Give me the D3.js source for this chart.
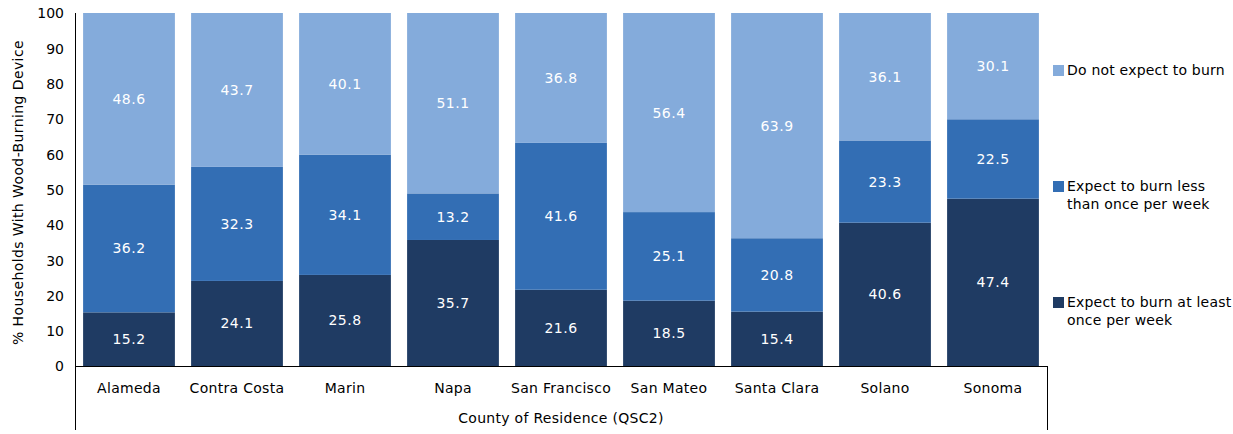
<!DOCTYPE html>
<html>
<head>
  <meta charset="utf-8">
  <title>Wood-Burning Device Use by County</title>
<style>
body { margin: 0; background: #fff; }
text { font-family: "DejaVu Sans", sans-serif; fill: #000; }
.tick text { font-size: 14px; }
.value-label { font-size: 14px; fill: #fff; text-anchor: middle; dominant-baseline: central; letter-spacing: 0.5px; }
.legend text { font-size: 14px; letter-spacing: 0.2px; }
.axis-title { font-size: 14px; letter-spacing: 0.3px; }
.y-title { font-size: 14px; letter-spacing: 0.4px; }
line.frame { stroke: #000; stroke-width: 1; }
</style>
</head>
<body>
<svg id="chart" width="1233" height="434"></svg>
<script src="https://d3js.org/d3.v7.min.js"></script>
<script>

var counties = ["Alameda", "Contra Costa", "Marin", "Napa", "San Francisco", "San Mateo", "Santa Clara", "Solano", "Sonoma"];
var atLeastWeekly = [15.2, 24.1, 25.8, 35.7, 21.6, 18.5, 15.4, 40.6, 47.4];
var lessThanWeekly = [36.2, 32.3, 34.1, 13.2, 41.6, 25.1, 20.8, 23.3, 22.5];
var doNotBurn = [48.6, 43.7, 40.1, 51.1, 36.8, 56.4, 63.9, 36.1, 30.1];
var yTicks = [0, 10, 20, 30, 40, 50, 60, 70, 80, 90, 100];

var series = [
  { key: "atLeast", label: ["Expect to burn at least", "once per week"], values: atLeastWeekly, color: "#1f3b63" },
  { key: "less", label: ["Expect to burn less", "than once per week"], values: lessThanWeekly, color: "#336eb4" },
  { key: "none", label: ["Do not expect to burn"], values: doNotBurn, color: "#84abdb" }
];

var svg = d3.select("#chart");
var plotLeft = 75, plotRight = 1047, plotTop = 13, plotBottom = 366;

var rows = counties.map(function (c, i) {
  var r = { county: c };
  series.forEach(function (s) { r[s.key] = s.values[i]; });
  return r;
});

var stacked = d3.stack().keys(series.map(function (s) { return s.key; }))(rows);

var x = d3.scaleBand().domain(counties).range([plotLeft, plotRight]).paddingInner(0.15).paddingOuter(0.075);
// some rows add up to 100.1 from rounding; keep bars inside the axis
var y = d3.scaleLinear().domain([0, 100]).range([plotBottom, plotTop]).clamp(true);

// bars
var layer = svg.append("g").selectAll("g.layer")
  .data(stacked)
  .join("g")
  .attr("class", "layer")
  .attr("fill", function (d, i) { return series[i].color; });

layer.selectAll("rect")
  .data(function (d) { return d; })
  .join("rect")
  .attr("x", function (d) { return x(d.data.county); })
  .attr("width", x.bandwidth())
  .attr("y", function (d) { return y(d[1]); })
  .attr("height", function (d) { return y(d[0]) - y(d[1]); });

layer.selectAll("text")
  .data(function (d) { return d; })
  .join("text")
  .attr("class", "value-label")
  .attr("x", function (d) { return x(d.data.county) + x.bandwidth() / 2; })
  .attr("y", function (d) { return (y(d[0]) + y(d[1])) / 2; })
  .text(function (d) { return (d[1] - d[0]).toFixed(1); });

// y axis
var yAxis = svg.append("g")
  .attr("transform", "translate(" + plotLeft + ",0)")
  .call(d3.axisLeft(y).tickValues(yTicks).tickSize(0).tickPadding(11));
yAxis.select(".domain").remove();
yAxis.selectAll(".tick text").attr("dy", "0.35em");

// x axis labels
svg.append("g").selectAll("text")
  .data(counties)
  .join("text")
  .attr("class", "axis-title")
  .attr("x", function (d) { return x(d) + x.bandwidth() / 2; })
  .attr("y", 393)
  .attr("text-anchor", "middle")
  .text(function (d) { return d; });

// frame lines
svg.append("line").attr("class", "frame").attr("x1", plotLeft + 0.5).attr("x2", plotLeft + 0.5).attr("y1", plotTop).attr("y2", 430);
svg.append("line").attr("class", "frame").attr("x1", plotLeft).attr("x2", plotRight).attr("y1", plotBottom + 0.5).attr("y2", plotBottom + 0.5);
svg.append("line").attr("class", "frame").attr("x1", plotRight + 0.5).attr("x2", plotRight + 0.5).attr("y1", plotBottom).attr("y2", 430);

// axis titles
svg.append("text")
  .attr("class", "axis-title")
  .attr("x", (plotLeft + plotRight) / 2)
  .attr("y", 423)
  .attr("text-anchor", "middle")
  .text("County of Residence (QSC2)");

svg.append("text")
  .attr("class", "y-title")
  .attr("transform", "translate(23," + ((plotTop + plotBottom) / 2 + 3) + ") rotate(-90)")
  .attr("text-anchor", "middle")
  .text("% Households With Wood-Burning Device");

// legend
var legendY = [70, 186, 302];
var legend = svg.append("g").attr("class", "legend").selectAll("g")
  .data(series.slice().reverse())
  .join("g")
  .attr("transform", function (d, i) { return "translate(1053," + legendY[i] + ")"; });

legend.append("rect")
  .attr("x", 0).attr("y", -5).attr("width", 11).attr("height", 11)
  .attr("fill", function (d) { return d.color; });

legend.append("text")
  .selectAll("tspan")
  .data(function (d) { return d.label; })
  .join("tspan")
  .attr("x", 14)
  .attr("y", function (d, i) { return i * 18; })
  .attr("dy", "0.35em")
  .text(function (d) { return d; });

</script>
</body>
</html>
